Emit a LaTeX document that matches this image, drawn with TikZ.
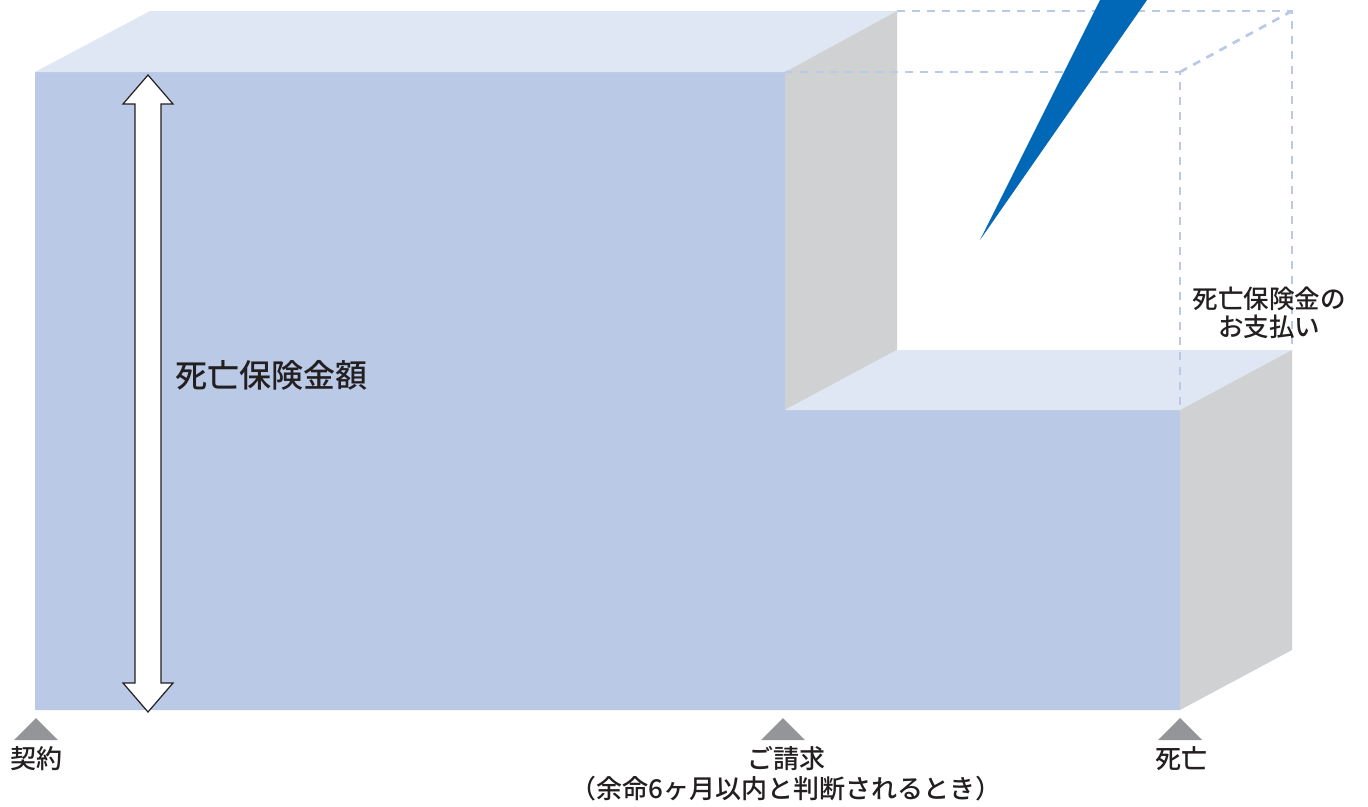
\documentclass[tikz,border=0pt]{standalone}
\usepackage{fontspec}
\setmainfont{Noto Sans CJK JP Medium}
\usetikzlibrary{positioning}
\definecolor{frontblue}{RGB}{185,201,230}
\definecolor{topblue}{RGB}{224,231,244}
\definecolor{sidegray}{RGB}{208,209,211}
\definecolor{markgray}{RGB}{147,149,152}
\definecolor{wedgeblue}{RGB}{0,104,183}
\definecolor{txt}{RGB}{35,31,32}
\tikzset{font=\fontsize{26}{30}\selectfont}
\tikzset{every node/.append style={text=txt, inner sep=0pt}}
\tikzset{boxedge/.style={draw=frontblue, line width=2.7pt, dash pattern=on 8pt off 7pt}}
\tikzset{timemark/.style={fill=markgray}}

\begin{document}
\begin{tikzpicture}[x=1pt,y=-1pt]
  \useasboundingbox (0,0) rectangle (1368,806);
  % front corners
  \coordinate (f1) at (35,72);
  \coordinate (f2) at (785,72);
  \coordinate (f3) at (785,410);
  \coordinate (f4) at (1180,410);
  \coordinate (f5) at (1180,710);
  \coordinate (f6) at (35,710);
  \coordinate (f7) at (1180,72);
  % back corners
  \coordinate (b1) at (150,11);
  \coordinate (b2) at (897,11);
  \coordinate (b3) at (897,350);
  \coordinate (b4) at (1292,350);
  \coordinate (b5) at (1292,650);
  \coordinate (b6) at (1292,11);

  \fill[frontblue] (f1) -- (f2) -- (f3) -- (f4) -- (f5) -- (f6) -- cycle;
  \fill[topblue] (f1) -- (b1) -- (b2) -- (f2) -- cycle;
  \fill[sidegray] (f2) -- (b2) -- (b3) -- (f3) -- cycle;
  \fill[topblue] (f3) -- (b3) -- (b4) -- (f4) -- cycle;
  \fill[sidegray] (f4) -- (b4) -- (b5) -- (f5) -- cycle;

  % dashed box
  \draw[boxedge] (f2) -- (f7) -- (f4);
  \draw[boxedge] (b2) -- (b6) -- (b4);
  \draw[boxedge] (f7) -- (b6);

  % wedge
  \fill[wedgeblue] (1100,0) -- (1147,0) -- (980,240) -- cycle;

  % double arrow
  \draw[fill=white, draw=txt, line width=1.2pt]
    (148,75) -- (173,104) -- (161,104) -- (161,683) -- (173,683)
    -- (148,712) -- (123,683) -- (135,683) -- (135,104) -- (123,104) -- cycle;
  \node[font=\fontsize{32}{36}\selectfont] (gaku) at (271,375) {死亡保険金額};

  % time marks
  \foreach \name/\xx in {m1/36, m2/783, m3/1180}{
    \fill[timemark] (\xx-22,740) -- (\xx,718) -- (\xx+22,740) -- cycle;
    \coordinate (\name) at (\xx,740);
  }
  \node (keiyaku) at (36,759) {契約};
  \node[align=center] (seikyu) at (786,774) {ご請求\\（余命6ヶ月以内と判断されるとき）};
  \node (shibo) at (1181,759) {死亡};
  \node[align=center, font=\fontsize{25.5}{28}\selectfont] (shiharai) at (1269,313) {死亡保険金の\\お支払い};
\end{tikzpicture}
\end{document}
